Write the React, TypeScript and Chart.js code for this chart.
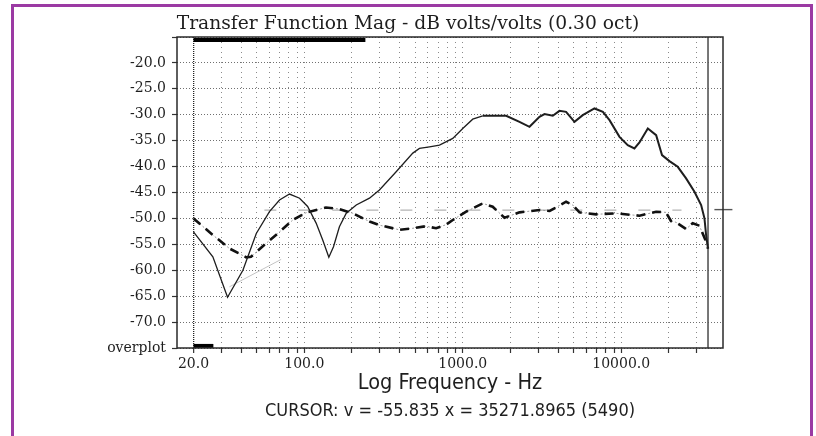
import React, { useEffect, useRef } from 'react';
import { Chart, registerables } from 'chart.js';

Chart.register(...registerables);

// ---- data ----
const solidFreq = [20, 26.5, 32.8, 41, 49.8, 60.3, 69.8, 80.7, 93.4, 105, 118.8, 130.9, 142.9, 152.9, 166.6, 184, 212.8, 257.8, 298, 380, 484, 533, 617, 713, 865, 1000, 1156, 1337, 1879, 2280, 2637, 3048, 3279, 3698, 4074, 4487, 5070, 5715, 6776, 7656, 8433, 9748, 10990, 12110, 13030, 14710, 16600, 18080, 20140, 22720, 25650, 28970, 31920, 33500, 34300, 35272];
const solidDb = [-52.6, -57.4, -65.2, -60.0, -52.9, -48.7, -46.45, -45.3, -46.1, -47.7, -50.9, -54.2, -57.5, -55.45, -51.6, -49.0, -47.4, -46.1, -44.5, -41.0, -37.4, -36.5, -36.2, -35.86, -34.57, -32.64, -30.85, -30.2, -30.2, -31.37, -32.33, -30.4, -29.88, -30.2, -29.25, -29.44, -31.37, -30.08, -28.79, -29.44, -31.04, -34.26, -35.86, -36.5, -35.34, -32.64, -33.93, -37.78, -38.94, -40.04, -42.27, -44.86, -47.42, -49.98, -53.2, -55.835];

const dashFreq = [20, 26.5, 33.7, 43, 46.1, 57.5, 69.8, 84.7, 102.6, 137, 167, 202, 258, 298, 399, 484, 586, 679, 785, 865, 1050, 1337, 1545, 1833, 2280, 3048, 3534, 4487, 4942, 5448, 6950, 9290, 13030, 16600, 19140, 20600, 22180, 25650, 28240, 31120, 34300, 35272];
const dashDb = [-50.0, -53.2, -55.8, -57.5, -57.4, -54.8, -52.6, -50.3, -48.9, -47.9, -48.2, -49.0, -50.6, -51.3, -52.2, -51.9, -51.5, -51.9, -51.2, -50.3, -48.7, -47.09, -47.74, -49.87, -48.83, -48.38, -48.57, -46.78, -47.42, -48.83, -49.21, -49.02, -49.48, -48.71, -48.83, -50.5, -50.75, -52.04, -50.94, -51.4, -54.5, -55.835];

const faintFreq = [33.7, 71.5];
const faintDb = [-63.2, -57.9];

const refFreq = [56, 24000];
const refDb = [-48.4, -48.4];

const markFreq = [38700, 50270];
const markDb = [-48.3, -48.3];

const topBarFreq = [20, 243];
const topBarDb = [-15.6, -15.6];
const bottomBarFreq = [20, 26.7];
const bottomBarDb = [-74.6, -74.6];

const cursorX = 35271.8965;
const cursorV = -55.835;
const cursorIndex = 5490;
const cursorDb = [-75, -15];

const xMin = 15.74;
const xMax = 43850;
const yMin = -75;
const yMax = -15;

const xTickValues = [20, 30, 40, 50, 60, 70, 80, 90, 100, 200, 300, 400, 500, 600, 700, 800, 900, 1000, 2000, 3000, 4000, 5000, 6000, 7000, 8000, 9000, 10000, 20000, 30000];
const xLabelValues = [20, 100, 1000, 10000];
const yTickValues = [-75, -70, -65, -60, -55, -50, -45, -40, -35, -30, -25, -20, -15];

const titleText = 'Transfer Function Mag - dB volts/volts (0.30 oct)';
const xTitleText = 'Log Frequency - Hz';
const bottomLabel = 'overplot';

const zip = (xs: number[], ys: number[]) => xs.map((x, i) => ({ x, y: ys[i] }));

const framePlugin = {
  id: 'frame',
  afterDatasetsDraw(chart: any) {
    const { ctx, chartArea } = chart;
    ctx.save();
    ctx.strokeStyle = '#2a2a2a';
    ctx.lineWidth = 1.5;
    ctx.strokeRect(chartArea.left, chartArea.top, chartArea.right - chartArea.left, chartArea.bottom - chartArea.top);
    ctx.restore();
  },
};

export default function App() {
  const ref = useRef<HTMLCanvasElement>(null);

  useEffect(() => {
    const canvas = ref.current;
    if (!canvas) return;
    const chart = new Chart(canvas, {
      type: 'line',
      data: {
        datasets: [
          {
            label: 'magnitude',
            data: zip(solidFreq, solidDb),
            borderColor: '#1e1e1e',
            borderWidth: 1.4,
            pointRadius: 0,
            tension: 0,
            segment: {
              borderWidth: (c: any) => (c.p0.parsed.x > 1200 ? 2 : 1.3),
            },
          },
          {
            label: 'overplot dashed',
            data: zip(dashFreq, dashDb),
            borderColor: '#111',
            borderWidth: 2.6,
            borderDash: [9, 7],
            pointRadius: 0,
            tension: 0,
          },
          {
            label: 'overplot dotted',
            data: zip(dashFreq, dashDb),
            borderColor: '#9a9a9a',
            borderWidth: 1,
            borderDash: [2, 2],
            pointRadius: 0,
            tension: 0,
          },
          {
            label: 'cursor',
            data: zip([cursorX, cursorX], cursorDb),
            borderColor: '#555',
            borderWidth: 1.6,
            pointRadius: 0,
          },
          {
            label: 'reference',
            data: zip(refFreq, refDb),
            borderColor: '#b4b4b4',
            borderWidth: 1.4,
            borderDash: [12, 22],
            pointRadius: 0,
          },
          {
            label: 'faint',
            data: zip(faintFreq, faintDb),
            borderColor: '#c4c4c4',
            borderWidth: 1,
            pointRadius: 0,
          },
          {
            label: 'marker',
            data: zip(markFreq, markDb),
            borderColor: '#555',
            borderWidth: 1.4,
            pointRadius: 0,
            clip: false,
          },
          {
            label: 'topbar',
            data: zip(topBarFreq, topBarDb),
            borderColor: '#000',
            borderWidth: 4,
            pointRadius: 0,
          },
          {
            label: 'bottombar',
            data: zip(bottomBarFreq, bottomBarDb),
            borderColor: '#000',
            borderWidth: 4,
            pointRadius: 0,
          },
        ] as any,
      },
      options: {
        responsive: false,
        animation: false,
        events: [],
        layout: { padding: { left: 0, right: 0, top: 0, bottom: 14.2 } },
        plugins: {
          legend: { display: false },
          tooltip: { enabled: false },
          title: {
            display: true,
            text: titleText,
            color: '#1e1e1e',
            font: { family: '"DejaVu Serif", serif', size: 18.7, weight: 'normal', lineHeight: 1.2 },
            padding: { top: 13.3, bottom: 1.26 },
          },
          subtitle: {
            display: true,
            position: 'bottom',
            fullSize: false,
            text: `CURSOR: v = ${cursorV.toFixed(3)} x = ${cursorX.toFixed(4)} (${cursorIndex})`,
            color: '#1e1e1e',
            font: { family: '"DejaVu Sans Condensed", "DejaVu Sans", sans-serif', size: 18, weight: 'normal', lineHeight: 1.2 },
            padding: { top: 3.6, bottom: 0 },
          },
        },
        scales: {
          x: {
            type: 'logarithmic',
            min: xMin,
            max: xMax,
            afterBuildTicks: (s: any) => {
              s.ticks = xTickValues.map((v) => ({ value: v }));
            },
            afterFit: (s: any) => {
              s.height = 48.6;
            },
            grid: {
              color: (c: any) => (c.tick && c.tick.value === 20 ? '#222' : '#8a8a8a'),
              lineWidth: (c: any) => (c.tick && c.tick.value === 20 ? 1.3 : 1),
              tickColor: '#333',
              tickLength: 5,
              tickWidth: 1.2,
            },
            border: {
              display: false,
              dash: (c: any) => (c.tick && c.tick.value === 20 ? [1, 1] : [1, 4]),
            },
            ticks: {
              autoSkip: false,
              maxRotation: 0,
              minRotation: 0,
              padding: 2.6,
              color: '#1e1e1e',
              font: { family: '"DejaVu Serif", serif', size: 14, lineHeight: 1.2 },
              callback: (v: any) => (xLabelValues.includes(Number(v)) ? Number(v).toFixed(1) : ''),
            },
            title: {
              display: true,
              text: xTitleText,
              color: '#1e1e1e',
              font: { family: '"DejaVu Sans Condensed", "DejaVu Sans", sans-serif', size: 21.5, lineHeight: 1.2 },
              padding: { top: 0, bottom: 0 },
            },
          },
          y: {
            type: 'linear',
            position: 'left',
            min: yMin,
            max: yMax,
            afterBuildTicks: (s: any) => {
              s.ticks = yTickValues.map((v) => ({ value: v }));
            },
            afterFit: (s: any) => {
              s.width = 177;
            },
            grid: {
              color: '#707070',
              lineWidth: 1,
              tickColor: '#333',
              tickLength: 5,
              tickWidth: 1.2,
            },
            border: { display: false, dash: [1, 2] },
            ticks: {
              autoSkip: false,
              padding: 6,
              color: '#1e1e1e',
              font: { family: '"DejaVu Serif", serif', size: 14, lineHeight: 1.2 },
              callback: (v: any) => {
                const n = Number(v);
                if (n === yMin) return bottomLabel;
                if (n === yMax) return '';
                return n.toFixed(1);
              },
            },
          },
          yR: {
            type: 'linear',
            position: 'right',
            min: yMin,
            max: yMax,
            afterFit: (s: any) => {
              s.width = 93;
            },
            grid: { display: false, drawOnChartArea: false, drawTicks: false },
            border: { display: false },
            ticks: { display: false },
          },
        },
      } as any,
      plugins: [framePlugin],
    });
    return () => chart.destroy();
  }, []);

  return (
    <div style={{ position: 'fixed', left: 0, top: 0, width: 816, height: 436, background: '#fff', overflow: 'hidden' }}>
      <canvas ref={ref} width={816} height={436} style={{ position: 'absolute', left: 0, top: 0, width: 816, height: 436 }} />
      <div
        style={{
          position: 'absolute',
          left: 11,
          top: 4,
          width: 796,
          height: 450,
          borderLeft: '3px solid #9b3aa3',
          borderTop: '3px solid #9b3aa3',
          borderRight: '3px solid #9b3aa3',
          pointerEvents: 'none',
        }}
      />
    </div>
  );
}
